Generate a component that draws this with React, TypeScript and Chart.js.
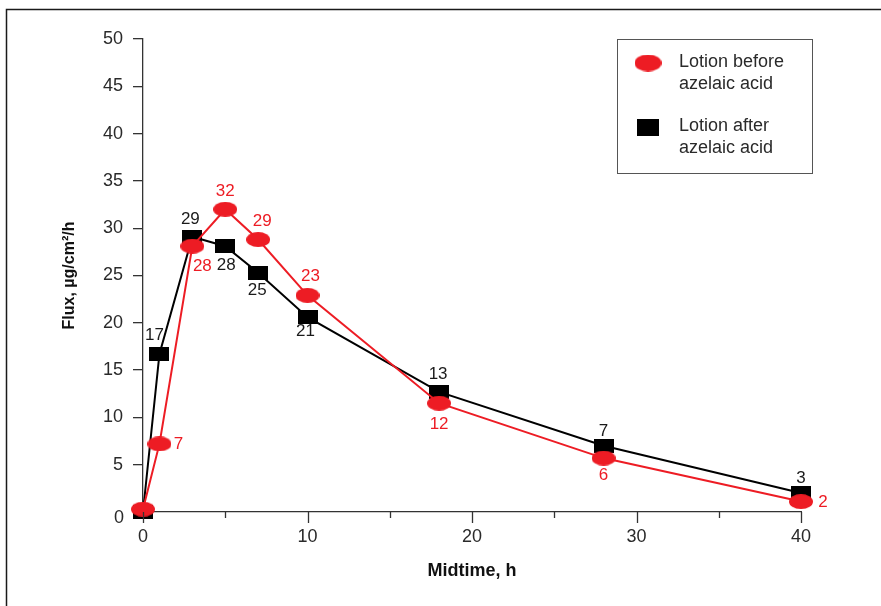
import { useEffect, useRef } from 'react';
import { Chart, registerables } from 'chart.js';

Chart.register(...registerables);

// ---- data ----
const timesBefore = [0, 1, 3, 5, 7, 10, 18, 28, 40];
const fluxBefore = [0.3, 7.2, 28.1, 32.0, 28.8, 22.9, 11.5, 5.7, 1.1];
const labelsBefore = ['', '7', '28', '32', '29', '23', '12', '6', '2'];

const timesAfter = [0, 1, 3, 5, 7, 10, 18, 28, 40];
const fluxAfter = [0, 16.7, 29.1, 28.1, 25.3, 20.6, 12.7, 7.0, 2.0];
const labelsAfter = ['', '17', '29', '28', '25', '21', '13', '7', '3'];

const xMajorTicks = [0, 10, 20, 30, 40];
const xMinorTicks = [5, 15, 25, 35];
const legendBefore = ['Lotion before', 'azelaic acid'];
const legendAfter = ['Lotion after', 'azelaic acid'];
const xTitle = 'Midtime, h';
const yTitle = 'Flux, \u00b5g/cm\u00b2/h';

// ---- styling (label placement offsets in px) ----
const RED = '#ED1C24';
const BLACK = '#000000';
const TEXT = '#2a2a2a';
const AXIS = '#333333';
const FONT = '"Liberation Sans", Arial, Helvetica, sans-serif';
const offsetsBefore = [[0, 0], [19, 0], [10, 20], [0, -18], [4, -18], [3, -19], [0, 21], [0, 17], [22, 1]];
const offsetsAfter = [[0, 0], [-5, -19], [-2, -17], [1, 19], [-1, 18], [-2, 14], [-1, -18], [0, -14], [0, -15]];

function ellipseMarker(w: number, h: number, color: string) {
  const c = document.createElement('canvas');
  c.width = w;
  c.height = h;
  const g = c.getContext('2d')!;
  g.fillStyle = color;
  g.beginPath();
  g.ellipse(w / 2, h / 2, w / 2, h / 2, 0, 0, Math.PI * 2);
  g.fill();
  return c;
}

function rectMarker(w: number, h: number, color: string) {
  const c = document.createElement('canvas');
  c.width = w;
  c.height = h;
  const g = c.getContext('2d')!;
  g.fillStyle = color;
  g.fillRect(0, 0, w, h);
  return c;
}

export default function App() {
  const ref = useRef<HTMLCanvasElement>(null);

  useEffect(() => {
    document.body.style.margin = '0';
    const canvas = ref.current!;
    const redPt = ellipseMarker(24, 15, RED);
    const blackPt = rectMarker(20, 14, BLACK);

    const decor = {
      id: 'decor',
      beforeDraw(chart: any) {
        const { ctx } = chart;
        ctx.save();
        ctx.fillStyle = '#fff';
        ctx.fillRect(0, 0, chart.width, chart.height);
        ctx.strokeStyle = '#1a1a1a';
        ctx.lineWidth = 1.5;
        ctx.strokeRect(6.5, 9.5, 2000, 2000);
        ctx.restore();
      },
      afterDraw(chart: any) {
        const { ctx } = chart;
        const xs = chart.scales.x;
        const ys = chart.scales.y;
        const y0 = ys.getPixelForValue(0);
        ctx.save();
        // x ticks (major + minor)
        ctx.strokeStyle = AXIS;
        ctx.lineWidth = 1.3;
        xMajorTicks.forEach((v) => {
          const px = Math.round(xs.getPixelForValue(v)) + 0.5;
          ctx.beginPath();
          ctx.moveTo(px, y0);
          ctx.lineTo(px, y0 + 11);
          ctx.stroke();
        });
        xMinorTicks.forEach((v) => {
          const px = Math.round(xs.getPixelForValue(v)) + 0.5;
          ctx.beginPath();
          ctx.moveTo(px, y0);
          ctx.lineTo(px, y0 + 6);
          ctx.stroke();
        });
        // y "0" tick label, nudged down
        ctx.fillStyle = TEXT;
        ctx.font = `18px ${FONT}`;
        ctx.textAlign = 'right';
        ctx.textBaseline = 'middle';
        ctx.fillText('0', ys.right - 19, y0 + 6);

        // legend
        ctx.strokeStyle = '#555';
        ctx.lineWidth = 1;
        ctx.strokeRect(617.5, 39.5, 195, 134);
        ctx.drawImage(ellipseMarker(27, 17, RED), 648 - 13.5, 63 - 8.5);
        ctx.drawImage(rectMarker(22, 17, BLACK), 648 - 11, 127 - 8.5);
        ctx.fillStyle = TEXT;
        ctx.textAlign = 'left';
        ctx.fillText(legendBefore[0], 679, 62);
        ctx.fillText(legendBefore[1], 679, 84);
        ctx.fillText(legendAfter[0], 679, 126);
        ctx.fillText(legendAfter[1], 679, 148);
        ctx.restore();
      },
      afterDatasetsDraw(chart: any) {
        const { ctx } = chart;
        ctx.save();
        ctx.font = `17px ${FONT}`;
        ctx.textAlign = 'center';
        ctx.textBaseline = 'middle';
        const sets = [
          { idx: 0, labels: labelsBefore, offs: offsetsBefore, color: RED },
          { idx: 1, labels: labelsAfter, offs: offsetsAfter, color: '#1a1a1a' },
        ];
        sets.forEach((s) => {
          const meta = chart.getDatasetMeta(s.idx);
          ctx.fillStyle = s.color;
          meta.data.forEach((el: any, i: number) => {
            const t = s.labels[i];
            if (!t) return;
            ctx.fillText(t, el.x + s.offs[i][0], el.y + s.offs[i][1]);
          });
        });
        ctx.restore();
      },
    };

    const chart = new Chart(canvas, {
      type: 'line',
      data: {
        datasets: [
          {
            label: legendBefore.join(' '),
            data: timesBefore.map((t, i) => ({ x: t, y: fluxBefore[i] })),
            borderColor: RED,
            backgroundColor: RED,
            borderWidth: 2,
            pointStyle: redPt as any,
            pointRadius: 10,
            clip: false as any,
          },
          {
            label: legendAfter.join(' '),
            data: timesAfter.map((t, i) => ({ x: t, y: fluxAfter[i] })),
            borderColor: BLACK,
            backgroundColor: BLACK,
            borderWidth: 2,
            pointStyle: blackPt as any,
            pointRadius: 10,
            clip: false as any,
          },
        ],
      },
      options: {
        responsive: false,
        animation: false,
        events: [],
        layout: { padding: { left: 0, right: 80, top: 39, bottom: 0 } },
        plugins: { legend: { display: false }, tooltip: { enabled: false } },
        scales: {
          x: {
            type: 'linear',
            min: 0,
            max: 40,
            afterFit: (s: any) => {
              s.height = 94;
            },
            border: { display: true, color: AXIS, width: 1.3 },
            grid: { display: true, drawOnChartArea: false, drawTicks: false },
            ticks: {
              stepSize: 5,
              autoSkip: false,
              maxRotation: 0,
              padding: 14,
              color: TEXT,
              font: { size: 18, family: FONT },
              callback: (v: any) => (Number(v) % 10 === 0 ? String(v) : ''),
            },
            title: {
              display: true,
              text: xTitle,
              color: '#111',
              font: { size: 18, weight: 'bold', family: FONT },
              padding: { top: 0, bottom: 24 },
            },
          },
          y: {
            type: 'linear',
            min: 0,
            max: 50,
            afterFit: (s: any) => {
              s.width = 143;
            },
            border: { display: true, color: AXIS, width: 1.3 },
            grid: { display: true, drawOnChartArea: false, drawTicks: true, tickLength: 10, color: AXIS, lineWidth: 1.3 },
            ticks: {
              stepSize: 5,
              padding: 10,
              color: TEXT,
              font: { size: 18, family: FONT },
              callback: (v: any) => (Number(v) === 0 ? '' : String(v)),
            },
            title: {
              display: true,
              text: yTitle,
              color: '#111',
              font: { size: 16, weight: 'bold', family: FONT },
              padding: { top: 60, bottom: 0 },
            },
          },
        },
      },
      plugins: [decor],
    });
    return () => chart.destroy();
  }, []);

  return (
    <div style={{ width: 881, height: 606 }}>
      <canvas ref={ref} width={881} height={606} style={{ display: 'block' }} />
    </div>
  );
}
